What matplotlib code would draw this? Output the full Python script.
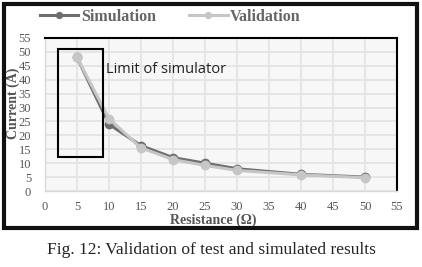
import matplotlib
matplotlib.use("Agg")
import matplotlib.pyplot as plt
from matplotlib.patches import Rectangle

# data
resistance = [5, 10, 15, 20, 25, 30, 40, 50]
simulation = [48, 24, 16.3, 12, 10, 8, 6, 5]
validation = [48, 26, 15.5, 11.3, 9.2, 7.4, 5.8, 4.8]
x_ticks = list(range(0, 56, 5))
y_ticks = list(range(0, 56, 5))

serif = ["Liberation Serif", "DejaVu Serif"]

fig = plt.figure(figsize=(4.22, 2.67), dpi=100)
ax = fig.add_axes([45 / 422, 1 - 191 / 267, 352 / 422, 153 / 267])
ax.set_facecolor("#f7f7f7")

ax.plot(resistance, simulation, color="#6e6e6e", lw=2.2, marker="o", ms=6,
        label="Simulation", zorder=3)
ax.plot(resistance, validation, color="#c6c6c6", lw=2.2, marker="o", ms=6,
        label="Validation", zorder=4)

ax.set_xlim(0, 55)
ax.set_ylim(0, 55)
ax.set_xticks(x_ticks)
ax.set_yticks(y_ticks)
ax.grid(True, color="#e2e2e2", lw=1.2)
ax.set_axisbelow(True)
ax.tick_params(length=0, labelsize=9, labelcolor="#555555")
ax.tick_params(axis="y", pad=10)
ax.tick_params(axis="x", pad=7)
for lab in ax.get_xticklabels() + ax.get_yticklabels():
    lab.set_family(serif)

for s in ["top", "right"]:
    ax.spines[s].set_color("black")
    ax.spines[s].set_linewidth(1.5)
for s in ["left", "bottom"]:
    ax.spines[s].set_color("#d9d9d9")
    ax.spines[s].set_linewidth(1)

ax.set_xlabel("Resistance (Ω)", family=serif, fontsize=10, color="#555555",
              fontweight="bold")
ax.xaxis.set_label_coords((213 - 45) / 352, -(214 - 191) / 153)
ax.set_ylabel("Current (A)", family=serif, fontsize=10, color="#555555",
              fontweight="bold")
ax.yaxis.set_label_coords((20 - 45) / 352, (191 - 103) / 153)

# box marking the limit of the simulator
ax.add_patch(Rectangle((2, 12.2), 7.1, 38.8, fill=False, ec="black", lw=1.5,
                       zorder=5, clip_on=False))
ax.text(9.6, 43.5, "Limit of simulator", fontsize=10.5, color="#222222",
        family=["Open Sans", "DejaVu Sans"], va="center")

leg = fig.legend(*ax.get_legend_handles_labels(), loc="center left",
                 bbox_to_anchor=(40 / 422, 1 - 17 / 267), ncol=2,
                 frameon=False, handlelength=2.4, handletextpad=0.15,
                 columnspacing=2.1, borderpad=0, borderaxespad=0,
                 markerscale=0.7,
                 prop={"family": serif, "size": 11.5, "weight": "bold"})
for t in leg.get_texts():
    t.set_color("#666666")

# outer frame
fig.patches.append(Rectangle((4 / 422, 1 - 228 / 267), 413 / 422, 224 / 267,
                             transform=fig.transFigure, fill=False,
                             ec="#111111", lw=3))

fig.text(0.5, 1 - 250 / 267, "Fig. 12: Validation of test and simulated results",
         ha="center", va="center", family=serif, fontsize=12.5, color="#222222")

fig.savefig("out.png", dpi=100)
